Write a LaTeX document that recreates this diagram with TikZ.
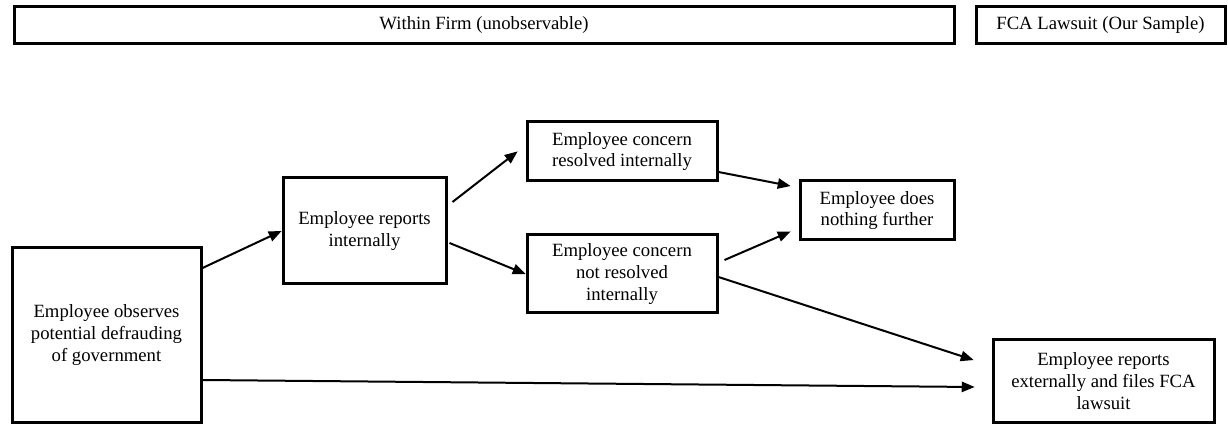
\documentclass[tikz,border=0pt]{standalone}
\usepackage{fontspec}
\setmainfont{Liberation Serif}
\usepackage{tikz}
\usetikzlibrary{arrows}

\tikzset{
	stage/.style={draw, line width=3pt, align=center, inner sep=0pt, font=\fontsize{18.7}{21.7}\selectfont},
	header/.style={stage, minimum height=37pt}
}

\begin{document}
\begin{tikzpicture}[x=1pt,y=1pt,>=triangle 45,line width=2pt]
	\useasboundingbox (0,0) rectangle (1228,423);
	\node[header, minimum width=940pt] (firm) at (484,397.5) {Within Firm (unobservable)};
	\node[header, minimum width=249pt] (fca) at (1100.5,397.5) {FCA Lawsuit (Our Sample)};
	\node[stage, minimum width=189pt, minimum height=174pt] (observe) at (106.5,88) {Employee observes\\potential defrauding\\of government};
	\node[stage, minimum width=163pt, minimum height=106pt] (internal) at (364.5,192) {Employee reports\\internally};
	\node[stage, minimum width=190pt, minimum height=59pt] (resolved) at (622,271.5) {Employee concern\\resolved internally};
	\node[stage, minimum width=190pt, minimum height=78pt] (unresolved) at (622,149) {Employee concern\\not resolved\\internally};
	\node[stage, minimum width=154pt, minimum height=59pt] (nothing) at (877,212.5) {Employee does\\nothing further};
	\node[stage, minimum width=221pt, minimum height=82pt] (external) at (1103.5,42) {Employee reports\\externally and files FCA\\lawsuit};
	\path[->]	([yshift=67pt]observe.east) edge (internal.west)
			([shift={(5,29)}]internal.east) edge ([xshift=-8pt]resolved.west)
			([shift={(2,-12)}]internal.east) edge (unresolved.west)
			([yshift=-20.5pt]resolved.east) edge ([shift={(-8,24.5)}]nothing.west)
			([shift={(6,14)}]unresolved.east) edge ([shift={(-8,-21)}]nothing.west)
			([yshift=-3pt]unresolved.east) edge ([shift={(-18,21)}]external.west)
			([yshift=-45pt]observe.east) edge ([shift={(-17,-6)}]external.west);
\end{tikzpicture}
\end{document}
